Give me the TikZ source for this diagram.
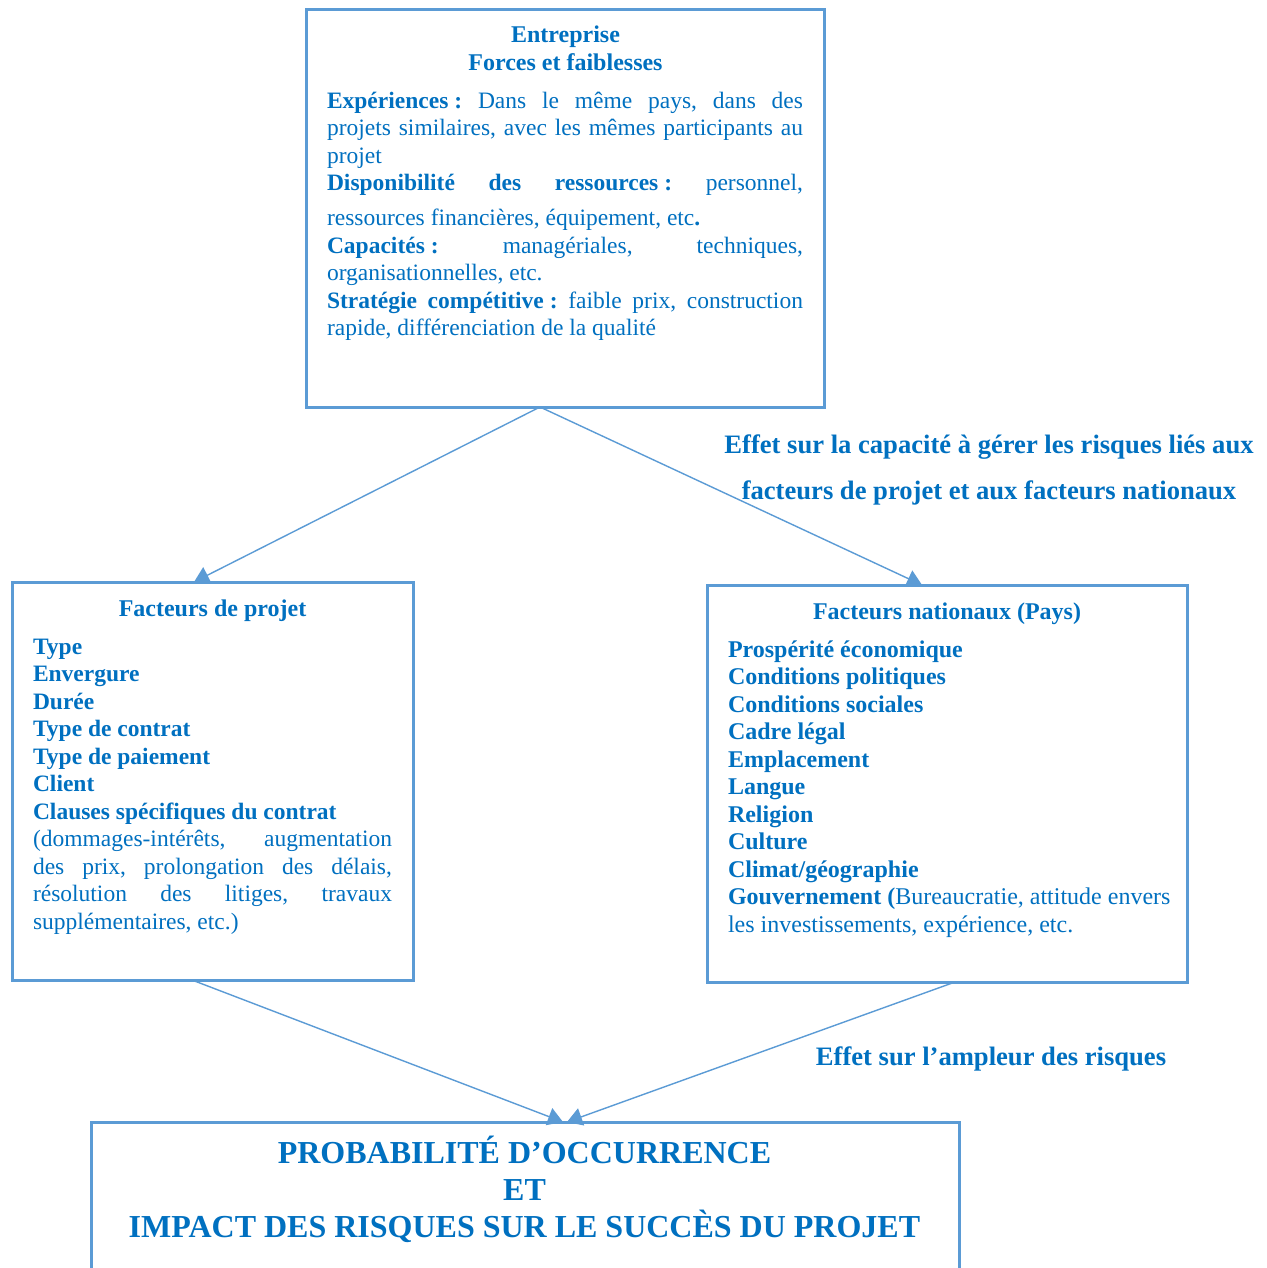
\documentclass[tikz,border=0pt]{standalone}
\usepackage{fontspec}
\setmainfont{Liberation Serif}
\usetikzlibrary{arrows.meta}
\definecolor{txtblue}{HTML}{0070C0}
\definecolor{lineblue}{HTML}{5B9BD5}

% one justified line of a fixed width; words are spread with \gap
\newcommand{\jline}[2][238pt]{\makebox[#1][l]{#2}}
\newcommand{\gap}{\hspace{0pt plus 1fill}\hspace{2.2pt}}

\begin{document}
\begin{tikzpicture}[x=0.5pt,y=-0.5pt,
  box/.style={draw=lineblue,line width=1.5pt,rectangle,inner sep=0,outer sep=0},
  txt/.style={text=txtblue,inner sep=0,outer sep=0,font=\fontsize{12}{13.75}\selectfont},
  body/.style={txt,font=\fontsize{11.75}{13.75}\selectfont},
  hd/.style={txt,font=\fontsize{12}{13.75}\selectfont\bfseries},
  conn/.style={draw=lineblue,line width=0.7pt,-{Triangle[length=7.5pt,width=9pt]}}]
\clip (0,0) rectangle (1266,1268);
\fill[white] (0,0) rectangle (1266,1268);

% boxes
\node[box,minimum width=259pt,minimum height=198.5pt] (ent) at (565,208.5) {};
\node[box,minimum width=200.5pt,minimum height=199pt] (proj) at (212.5,781) {};
\node[box,minimum width=240pt,minimum height=198.5pt] (nat) at (947,783.5) {};
\node[box,minimum width=434pt,minimum height=100pt] (res) at (525,1222) {};

% company box
\node[hd,anchor=north,align=center,font=\fontsize{12}{14}\selectfont\bfseries] (enthead) at (565.5,19)
  {\rule{0pt}{12pt}Entreprise\\Forces et faiblesses};
\node[body,anchor=north west,align=left] (entbody) at (327,84)
  {\rule{0pt}{12pt}\jline{\textbf{Expériences\kern3pt:}\gap Dans\gap le\gap même\gap pays,\gap dans\gap des}\\
   \jline{projets\gap similaires,\gap avec\gap les\gap mêmes\gap participants\gap au}\\
   projet\\
   \jline{\textbf{Disponibilité\gap des\gap ressources\kern3pt:}\gap personnel,}\\[3.75pt]
   ressources financières, équipement, etc\textbf{.}\\
   \jline{\textbf{Capacités\kern3pt:}\gap managériales,\gap techniques,}\\
   organisationnelles, etc.\\
   \jline{\textbf{Stratégie\gap compétitive\kern3pt:}\gap faible\gap prix,\gap construction}\\
   rapide, différenciation de la qualité};

% project factors box
\node[hd,anchor=base] (projhead) at (212.5,616) {Facteurs de projet};
\node[body,anchor=north west,align=left] (projbody) at (33,630)
  {\rule{0pt}{12pt}\textbf{Type}\\
   \textbf{Envergure}\\
   \textbf{Durée}\\
   \textbf{Type de contrat}\\
   \textbf{Type de paiement}\\
   \textbf{Client}\\
   \textbf{Clauses spécifiques du contrat}\\
   \jline[179.5pt]{(dommages-intérêts,\gap augmentation}\\
   \jline[179.5pt]{des\gap prix,\gap prolongation\gap des\gap délais,}\\
   \jline[179.5pt]{résolution\gap des\gap litiges,\gap travaux}\\
   supplémentaires, etc.)};

% national factors box
\node[hd,anchor=base] (nathead) at (947,619) {Facteurs nationaux (Pays)};
\node[txt,anchor=north west,align=left] (natbody) at (728,633)
  {\rule{0pt}{12pt}\textbf{Prospérité économique}\\
   \textbf{Conditions politiques}\\
   \textbf{Conditions sociales}\\
   \textbf{Cadre légal}\\
   \textbf{Emplacement}\\
   \textbf{Langue}\\
   \textbf{Religion}\\
   \textbf{Culture}\\
   \textbf{Climat/géographie}\\
   \textbf{Gouvernement (}Bureaucratie, attitude envers\\
   les investissements, expérience, etc.};

% result box
\node[txt,anchor=north,align=center,font=\fontsize{16}{18.5}\selectfont\bfseries] (restxt) at (524.5,1133)
  {\rule{0pt}{15pt}PROBABILITÉ D’OCCURRENCE\\ET\\IMPACT DES RISQUES SUR LE SUCCÈS DU PROJET};

% connector labels
\node[hd,anchor=north,align=center,font=\fontsize{13.3}{23}\selectfont\bfseries] (lab1) at (989,427)
  {\rule{0pt}{13pt}Effet sur la capacité à gérer les risques liés aux\\facteurs de projet et aux facteurs nationaux};
\node[hd,anchor=base,font=\fontsize{13.3}{15}\selectfont\bfseries] (lab2) at (991,1065) {Effet sur l’ampleur des risques};

% connectors
\draw[conn] ([xshift=-12.5pt]ent.south) -- ([xshift=-9.25pt]proj.north);
\draw[conn] ([xshift=-12.5pt]ent.south) -- ([xshift=-12.5pt]nat.north);
\draw[conn] ([xshift=-10.25pt]proj.south) -- ([xshift=19pt]res.north);
\draw[conn] ([xshift=4pt]nat.south) -- ([xshift=21pt]res.north);
\end{tikzpicture}
\end{document}
